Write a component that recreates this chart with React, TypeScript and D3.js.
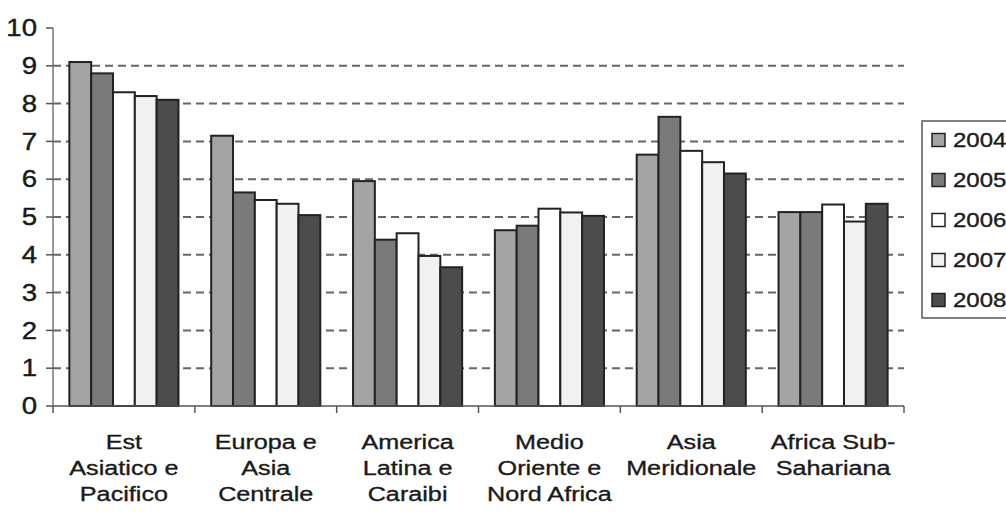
import React from "react";
import * as d3 from "d3";

const categories: string[][] = [
  ["Est", "Asiatico e", "Pacifico"],
  ["Europa e", "Asia", "Centrale"],
  ["America", "Latina e", "Caraibi"],
  ["Medio", "Oriente e", "Nord Africa"],
  ["Asia", "Meridionale"],
  ["Africa Sub-", "Sahariana"],
];
const years = ["2004", "2005", "2006", "2007", "2008"];
const v2004 = [9.1, 7.15, 5.95, 4.65, 6.65, 5.13];
const v2005 = [8.8, 5.65, 4.4, 4.77, 7.65, 5.13];
const v2006 = [8.3, 5.45, 4.57, 5.22, 6.75, 5.33];
const v2007 = [8.2, 5.35, 3.97, 5.12, 6.45, 4.88];
const v2008 = [8.1, 5.05, 3.67, 5.03, 6.15, 5.35];
const series = [v2004, v2005, v2006, v2007, v2008];
const colors = ["#a4a4a4", "#7a7a7a", "#ffffff", "#f1f1f1", "#4c4c4c"];
const yTicks = [0, 1, 2, 3, 4, 5, 6, 7, 8, 9, 10];
const gridTicks = [1, 2, 3, 4, 5, 6, 7, 8, 9];

export default function App() {
  const W = 1006, H = 518;
  const left = 53, right = 904, top = 28, bottom = 406;
  const catKeys = categories.map((c, i) => String(i));
  const x0 = d3.scaleBand<string>().domain(catKeys).range([left, right]).padding(0);
  const x1 = d3.scaleBand<string>().domain(years).range([0, x0.bandwidth()]).paddingInner(0).paddingOuter(0.75);
  const y = d3.scaleLinear().domain([0, 10]).range([bottom, top]);
  const font = "Arial, 'Liberation Sans', Helvetica, sans-serif";
  const catTicks = d3.range(categories.length + 1).map((i) => left + i * x0.step());
  const sx = 1.2;
  const lineY = [441, 467, 493];
  const txt = "#1a1a1a";

  return (
    <svg width={W} height={H} style={{ position: "absolute", left: 0, top: 0, background: "#fff" }} fontFamily={font}>
      {gridTicks.map((t) => (
        <line key={"g" + t} x1={left} x2={right} y1={y(t)} y2={y(t)} stroke="#666" strokeWidth={2} strokeDasharray="8,5" />
      ))}
      {categories.map((c, ci) =>
        series.map((s, si) => (
          <rect
            key={ci + "-" + si}
            x={(x0(String(ci)) as number) + (x1(years[si]) as number)}
            y={y(s[ci])}
            width={x1.bandwidth()}
            height={bottom - y(s[ci])}
            fill={colors[si]}
            stroke="#222"
            strokeWidth={2}
          />
        ))
      )}
      {/* y axis */}
      <line x1={left} x2={left} y1={top} y2={bottom} stroke="#777" strokeWidth={1.5} />
      {yTicks.map((t) => (
        <g key={"y" + t}>
          <line x1={left - 7} x2={left} y1={y(t)} y2={y(t)} stroke="#555" strokeWidth={1.5} />
          <g transform={`translate(37,${y(t)}) scale(${sx},1)`}>
            <text x={0} y={0} dy="0.36em" textAnchor="end" fontSize={23} fill={txt} stroke={txt} strokeWidth={0.4}>{t}</text>
          </g>
        </g>
      ))}
      {/* x axis */}
      <line x1={left} x2={right} y1={bottom} y2={bottom} stroke="#555" strokeWidth={1.5} />
      {catTicks.map((tx, i) => (
        <line key={"xt" + i} x1={tx} x2={tx} y1={bottom} y2={bottom + 7} stroke="#555" strokeWidth={1.5} />
      ))}
      {categories.map((lines, ci) => {
        const cx = (x0(String(ci)) as number) + x0.bandwidth() / 2;
        return (
          <g key={"c" + ci}>
            {lines.map((l, li) => (
              <g key={li} transform={`translate(${cx},${lineY[li]}) scale(${sx},1)`}>
                <text x={0} y={0} dy="0.36em" textAnchor="middle" fontSize={21} fill={txt} stroke={txt} strokeWidth={0.35}>{l}</text>
              </g>
            ))}
          </g>
        );
      })}
      {/* legend */}
      <rect x={922} y={121} width={100} height={197} fill="#fff" stroke="#555" strokeWidth={1.5} />
      {years.map((yr, i) => (
        <g key={"l" + yr}>
          <rect x={932} y={140 + i * 40 - 6.5} width={13} height={13} fill={colors[i]} stroke="#222" strokeWidth={1.5} />
          <g transform={`translate(953,${140 + i * 40}) scale(${sx},1)`}>
            <text x={0} y={0} dy="0.36em" fontSize={20} fill={txt} stroke={txt} strokeWidth={0.35}>{yr}</text>
          </g>
        </g>
      ))}
    </svg>
  );
}
